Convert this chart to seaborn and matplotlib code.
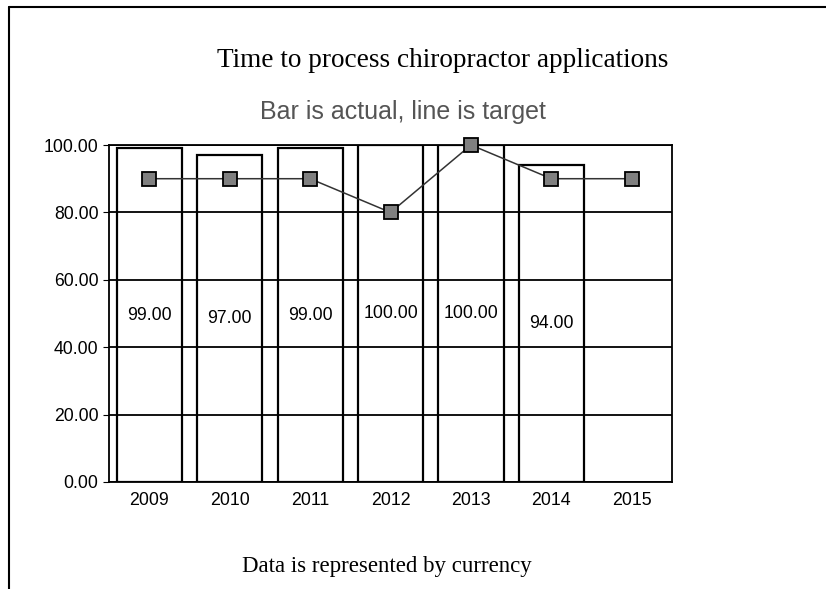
import matplotlib
matplotlib.use("Agg")
import matplotlib.pyplot as plt
from matplotlib.lines import Line2D
from matplotlib.ticker import FormatStrFormatter
import seaborn as sns
import pandas as pd
import numpy as np

# data
years = ["2009", "2010", "2011", "2012", "2013", "2014", "2015"]
actual = [99.0, 97.0, 99.0, 100.0, 100.0, 94.0, np.nan]
target = [90.0, 90.0, 90.0, 80.0, 100.0, 90.0, 90.0]

df = pd.DataFrame({"Year": years, "Actual": actual, "Target": target})

sns.set_style("white")
plt.rcParams["font.family"] = ["Liberation Sans", "DejaVu Sans"]
plt.rcParams["text.color"] = "black"
plt.rcParams["xtick.color"] = "black"
plt.rcParams["ytick.color"] = "black"

fig = plt.figure(figsize=(8.26, 5.89), dpi=100)
ax = fig.add_axes([0.132, 0.1817, 0.6816, 0.5721])

# bars = actual
sns.barplot(data=df, x="Year", y="Actual", order=years, color="white",
            edgecolor="black", linewidth=1.6, width=0.81, saturation=1, ax=ax)
ax.bar_label(ax.containers[0], fmt="%.2f", label_type="center", fontsize=12.7,
             color="black")

# line = target
sns.pointplot(data=df, x="Year", y="Target", order=years, color="#333333",
              markers="s", linestyles="-", markersize=9.5, linewidth=1.1,
              markerfacecolor="#808080", markeredgecolor="black",
              markeredgewidth=1.3, zorder=4, ax=ax)
for ln in ax.lines:
    ln.set_clip_on(False)

ax.set_ylim(0, 100)
ax.set_yticks([0, 20, 40, 60, 80, 100])
ax.yaxis.set_major_formatter(FormatStrFormatter("%.2f"))
ax.set_axisbelow(False)
ax.yaxis.grid(True, color="black", linewidth=1.3)
ax.xaxis.grid(False)
ax.set_xlabel("")
ax.set_ylabel("")
ax.tick_params(axis="x", length=0, labelsize=12.8, pad=7)
ax.tick_params(axis="y", length=4, labelsize=12.7, left=True, color="black")
for s in ax.spines.values():
    s.set_visible(True)
    s.set_color("black")
    s.set_linewidth(1.3)

# titles
fig.text(0.536, 0.897, "Time to process chiropractor applications",
         family=["Liberation Serif"], fontsize=19.6, ha="center", va="center")
fig.text(0.488, 0.81, "Bar is actual, line is target", color="#555555",
         fontsize=18, ha="center", va="center")
fig.text(0.468, 0.039, "Data is represented by currency",
         family=["Liberation Serif"], fontsize=16.5, ha="center", va="center")

# outer frame (left and top lines)
fig.add_artist(Line2D([0.011, 0.011], [0.0, 0.988], color="black", linewidth=1.5))
fig.add_artist(Line2D([0.011, 1.0], [0.988, 0.988], color="black", linewidth=1.5))

fig.savefig("out.png", dpi=100)
